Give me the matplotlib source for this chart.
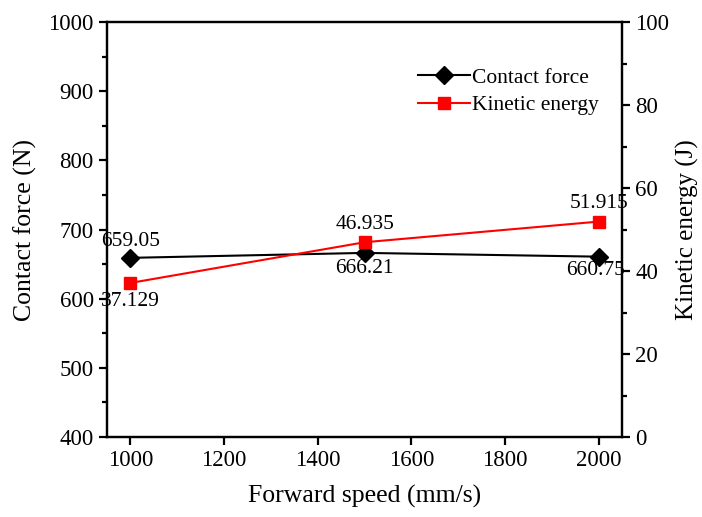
import matplotlib
matplotlib.use("Agg")
import matplotlib.pyplot as plt

speed = [1000, 1500, 2000]
contact_force = [659.05, 666.21, 660.75]
kinetic_energy = [37.129, 46.935, 51.915]
cf_labels = ["659.05", "666.21", "660.75"]
ke_labels = ["37.129", "46.935", "51.915"]

plt.rcParams['font.family'] = ['Liberation Serif', 'DejaVu Serif']

fig = plt.figure(figsize=(7.02, 5.17), dpi=100)
ax = fig.add_axes([0.1524, 0.1547, 0.734, 0.8027])
ax2 = ax.twinx()

l1, = ax.plot(speed, contact_force, color='black', marker='D', markersize=9, lw=1.5, label='Contact force')
l2, = ax2.plot(speed, kinetic_energy, color='red', marker='s', markersize=8, lw=1.5, label='Kinetic energy')

ax.set_xlim(950, 2050)
ax.set_ylim(400, 1000)
ax2.set_ylim(0, 100)
ax.set_xticks([1000, 1200, 1400, 1600, 1800, 2000])
ax.set_yticks(range(400, 1001, 100))
ax.set_yticks(range(450, 1000, 100), minor=True)
ax2.set_yticks(range(0, 101, 20))
ax2.set_yticks(range(10, 100, 20), minor=True)

for a in (ax, ax2):
    for s in a.spines.values():
        s.set_linewidth(1.6)
    a.tick_params(axis='both', which='major', direction='out', length=6, width=1.6, labelsize=16.5)
    a.tick_params(axis='both', which='minor', direction='out', length=3.5, width=1.6)

ax.set_xlabel('Forward speed (mm/s)', fontsize=18.5, labelpad=10)
ax.set_ylabel('Contact force (N)', fontsize=18.5, labelpad=8)
ax2.set_ylabel('Kinetic energy (J)', fontsize=18, labelpad=5)

# annotations: offsets in points
cf_off = [(0, 12), (0, -11), (-2, -10)]
ke_off = [(0, -13.5), (0, 13), (0, 13)]
for x, y, t, o in zip(speed, contact_force, cf_labels, cf_off):
    ax.annotate(t, (x, y), xytext=o, textcoords='offset points', ha='center', va='center', fontsize=15.5)
for x, y, t, o in zip(speed, kinetic_energy, ke_labels, ke_off):
    ax2.annotate(t, (x, y), xytext=o, textcoords='offset points', ha='center', va='center', fontsize=15.5)

ax.legend(handles=[l1, l2], loc='upper left', bbox_to_anchor=(0.587, 0.911), frameon=False, fontsize=15.5,
          handlelength=2.4, handletextpad=0.1, labelspacing=0.35, borderaxespad=0)

fig.savefig('out.png', dpi=100)
